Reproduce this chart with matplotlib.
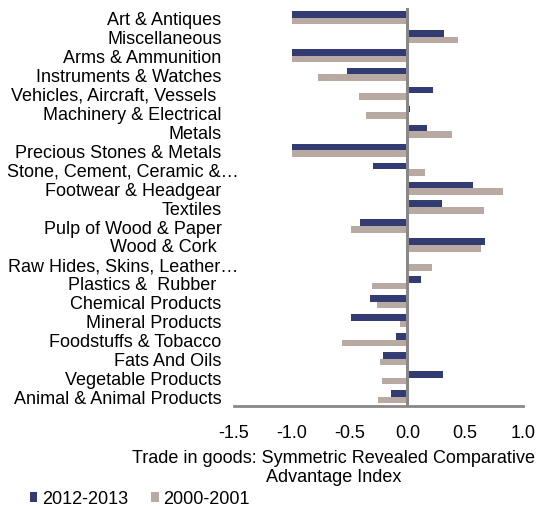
import matplotlib
matplotlib.use("Agg")
import matplotlib.pyplot as plt
from matplotlib.transforms import ScaledTranslation
import numpy as np

categories = ["Art & Antiques", "Miscellaneous", "Arms & Ammunition", "Instruments & Watches",
              "Vehicles, Aircraft, Vessels ", "Machinery & Electrical", "Metals",
              "Precious Stones & Metals", "Stone, Cement, Ceramic &…", "Footwear & Headgear",
              "Textiles", "Pulp of Wood & Paper", "Wood & Cork ", "Raw Hides, Skins, Leather…",
              "Plastics &  Rubber ", "Chemical Products", "Mineral Products",
              "Foodstuffs & Tobacco", "Fats And Oils", "Vegetable Products",
              "Animal & Animal Products"]
s2012 = [-1.0, 0.32, -1.0, -0.52, 0.22, 0.02, 0.17, -1.0, -0.30, 0.57, 0.30, -0.41, 0.67, 0.0,
         0.12, -0.32, -0.49, -0.10, -0.21, 0.31, -0.14]
s2000 = [-1.0, 0.44, -1.0, -0.77, -0.42, -0.36, 0.39, -1.0, 0.15, 0.83, 0.66, -0.49, 0.64, 0.21,
         -0.31, -0.26, -0.06, -0.57, -0.24, -0.22, -0.25]
xticks = [-1.5, -1.0, -0.5, 0.0, 0.5, 1.0]

plt.rcParams['font.family'] = ['Liberation Sans', 'DejaVu Sans']
fs = 13
fig = plt.figure(figsize=(5.38, 5.10), dpi=100)
ax = fig.add_axes([0.435, 0.202, 0.537, 0.78])

n = len(categories)
y = np.arange(n)
h = 0.35
c1, c2 = "#333B73", "#B8A9A3"
ax.barh(y - h / 2, s2012, height=h, color=c1, label="2012-2013")
ax.barh(y + h / 2, s2000, height=h, color=c2, label="2000-2001")
ax.set_ylim(n - 0.5, -0.5)
ax.set_xlim(-1.5, 1.0)
ax.set_yticks(y)
ax.set_yticklabels(categories, fontsize=fs)
ax.set_xticks(xticks)
ax.set_xticklabels([f"{v:.1f}" for v in xticks], fontsize=fs)
ax.tick_params(axis='both', length=0)
ax.tick_params(axis='x', pad=13)
ax.tick_params(axis='y', pad=9)
for lab in ax.get_yticklabels():
    if lab.get_text().endswith("…"):
        lab.set_transform(lab.get_transform() + ScaledTranslation(0.17, 0, fig.dpi_scale_trans))
for s in ["top", "right", "left"]:
    ax.spines[s].set_visible(False)
ax.spines["bottom"].set_color("#888888")
ax.spines["bottom"].set_linewidth(2)
ax.axvline(0, color="#888888", lw=2.2, zorder=3)
fig.text(334 / 538, 1 - 468 / 510, "Trade in goods: Symmetric Revealed Comparative\nAdvantage Index",
         fontsize=fs, ha="center", va="center", linespacing=1.1)

fig.legend(loc="center left", bbox_to_anchor=(0.055, 1 - 500 / 510), ncol=2, frameon=False, fontsize=fs,
           handlelength=0.42, handleheight=0.42, handletextpad=0.25, columnspacing=1.3,
           borderpad=0, borderaxespad=0)

fig.savefig("out.png", dpi=100)
